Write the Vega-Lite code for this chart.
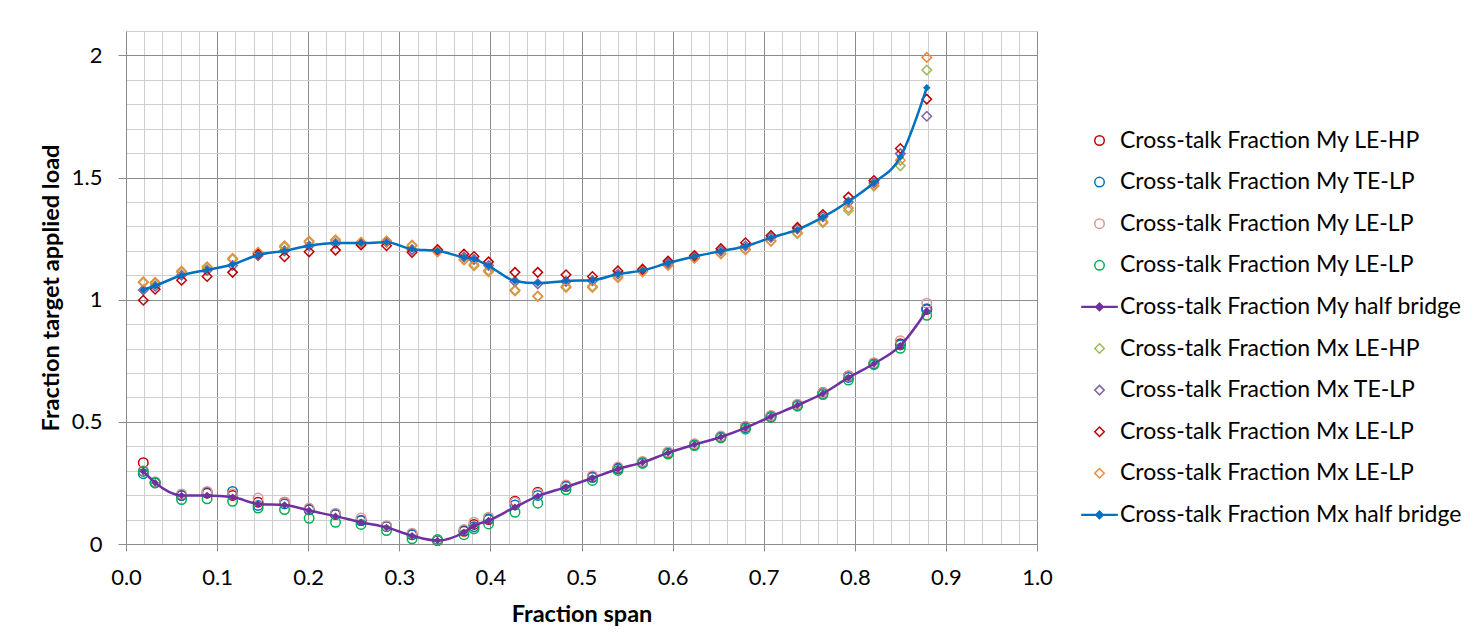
{
  "$schema": "https://vega.github.io/schema/vega-lite/v6.json",
  "autosize": {"type": "none"},
  "padding": {"left": 126, "top": 31, "right": 447, "bottom": 100},
  "width": 911,
  "height": 513,
  "background": "white",
  "config": {
    "view": {"stroke": null},
    "font": "Lato",
    "legend": {
      "orient": "none",
      "legendX": 962,
      "legendY": 98,
      "direction": "vertical",
      "labelFont": "Lato",
      "labelFontSize": 23,
      "labelColor": "#000000",
      "labelLimit": 0,
      "symbolSize": 90,
      "symbolStrokeWidth": 1.5,
      "rowPadding": 17.6,
      "labelOffset": 9,
      "padding": 0
    }
  },
  "data": {
    "values": [
      {"x":0.019,"s":"a","y":0.333},{"x":0.032,"s":"a","y":0.252},{"x":0.061,"s":"a","y":0.199},{"x":0.089,"s":"a","y":0.208},{"x":0.117,"s":"a","y":0.199},{"x":0.145,"s":"a","y":0.171},{"x":0.174,"s":"a","y":0.171},{"x":0.201,"s":"a","y":0.141},{"x":0.230,"s":"a","y":0.121},{"x":0.258,"s":"a","y":0.096},{"x":0.286,"s":"a","y":0.072},{"x":0.314,"s":"a","y":0.038},{"x":0.342,"s":"a","y":0.014},{"x":0.371,"s":"a","y":0.052},{"x":0.382,"s":"a","y":0.080},{"x":0.398,"s":"a","y":0.100},{"x":0.427,"s":"a","y":0.175},{"x":0.452,"s":"a","y":0.212},{"x":0.483,"s":"a","y":0.238},{"x":0.512,"s":"a","y":0.276},{"x":0.540,"s":"a","y":0.310},{"x":0.567,"s":"a","y":0.336},{"x":0.595,"s":"a","y":0.375},{"x":0.624,"s":"a","y":0.408},{"x":0.653,"s":"a","y":0.440},{"x":0.680,"s":"a","y":0.480},{"x":0.708,"s":"a","y":0.524},{"x":0.737,"s":"a","y":0.570},{"x":0.765,"s":"a","y":0.620},{"x":0.793,"s":"a","y":0.688},{"x":0.821,"s":"a","y":0.740},{"x":0.850,"s":"a","y":0.820},{"x":0.879,"s":"a","y":0.960},
      {"x":0.019,"s":"b","y":0.288},{"x":0.032,"s":"b","y":0.250},{"x":0.061,"s":"b","y":0.199},{"x":0.089,"s":"b","y":0.212},{"x":0.117,"s":"b","y":0.215},{"x":0.145,"s":"b","y":0.158},{"x":0.174,"s":"b","y":0.164},{"x":0.201,"s":"b","y":0.140},{"x":0.230,"s":"b","y":0.121},{"x":0.258,"s":"b","y":0.096},{"x":0.286,"s":"b","y":0.073},{"x":0.314,"s":"b","y":0.038},{"x":0.342,"s":"b","y":0.014},{"x":0.371,"s":"b","y":0.055},{"x":0.382,"s":"b","y":0.071},{"x":0.398,"s":"b","y":0.103},{"x":0.427,"s":"b","y":0.160},{"x":0.452,"s":"b","y":0.199},{"x":0.483,"s":"b","y":0.235},{"x":0.512,"s":"b","y":0.272},{"x":0.540,"s":"b","y":0.308},{"x":0.567,"s":"b","y":0.334},{"x":0.595,"s":"b","y":0.373},{"x":0.624,"s":"b","y":0.407},{"x":0.653,"s":"b","y":0.438},{"x":0.680,"s":"b","y":0.476},{"x":0.708,"s":"b","y":0.522},{"x":0.737,"s":"b","y":0.568},{"x":0.765,"s":"b","y":0.617},{"x":0.793,"s":"b","y":0.682},{"x":0.821,"s":"b","y":0.738},{"x":0.850,"s":"b","y":0.815},{"x":0.879,"s":"b","y":0.963},
      {"x":0.019,"s":"c","y":0.300},{"x":0.032,"s":"c","y":0.255},{"x":0.061,"s":"c","y":0.205},{"x":0.089,"s":"c","y":0.215},{"x":0.117,"s":"c","y":0.205},{"x":0.145,"s":"c","y":0.188},{"x":0.174,"s":"c","y":0.171},{"x":0.201,"s":"c","y":0.147},{"x":0.230,"s":"c","y":0.126},{"x":0.258,"s":"c","y":0.106},{"x":0.286,"s":"c","y":0.075},{"x":0.314,"s":"c","y":0.044},{"x":0.342,"s":"c","y":0.016},{"x":0.371,"s":"c","y":0.059},{"x":0.382,"s":"c","y":0.089},{"x":0.398,"s":"c","y":0.110},{"x":0.427,"s":"c","y":0.171},{"x":0.452,"s":"c","y":0.208},{"x":0.483,"s":"c","y":0.242},{"x":0.512,"s":"c","y":0.279},{"x":0.540,"s":"c","y":0.315},{"x":0.567,"s":"c","y":0.338},{"x":0.595,"s":"c","y":0.377},{"x":0.624,"s":"c","y":0.410},{"x":0.653,"s":"c","y":0.442},{"x":0.680,"s":"c","y":0.482},{"x":0.708,"s":"c","y":0.526},{"x":0.737,"s":"c","y":0.572},{"x":0.765,"s":"c","y":0.620},{"x":0.793,"s":"c","y":0.689},{"x":0.821,"s":"c","y":0.742},{"x":0.850,"s":"c","y":0.832},{"x":0.879,"s":"c","y":0.986},
      {"x":0.019,"s":"d","y":0.297},{"x":0.032,"s":"d","y":0.251},{"x":0.061,"s":"d","y":0.182},{"x":0.089,"s":"d","y":0.185},{"x":0.117,"s":"d","y":0.175},{"x":0.145,"s":"d","y":0.147},{"x":0.174,"s":"d","y":0.141},{"x":0.201,"s":"d","y":0.105},{"x":0.230,"s":"d","y":0.089},{"x":0.258,"s":"d","y":0.080},{"x":0.286,"s":"d","y":0.055},{"x":0.314,"s":"d","y":0.021},{"x":0.342,"s":"d","y":0.018},{"x":0.371,"s":"d","y":0.038},{"x":0.382,"s":"d","y":0.062},{"x":0.398,"s":"d","y":0.082},{"x":0.427,"s":"d","y":0.130},{"x":0.452,"s":"d","y":0.167},{"x":0.483,"s":"d","y":0.222},{"x":0.512,"s":"d","y":0.260},{"x":0.540,"s":"d","y":0.301},{"x":0.567,"s":"d","y":0.330},{"x":0.595,"s":"d","y":0.368},{"x":0.624,"s":"d","y":0.403},{"x":0.653,"s":"d","y":0.434},{"x":0.680,"s":"d","y":0.470},{"x":0.708,"s":"d","y":0.518},{"x":0.737,"s":"d","y":0.564},{"x":0.765,"s":"d","y":0.612},{"x":0.793,"s":"d","y":0.671},{"x":0.821,"s":"d","y":0.734},{"x":0.850,"s":"d","y":0.801},{"x":0.879,"s":"d","y":0.936},
      {"x":0.019,"s":"e","y":0.297},{"x":0.032,"s":"e","y":0.251},{"x":0.061,"s":"e","y":0.199},{"x":0.089,"s":"e","y":0.199},{"x":0.117,"s":"e","y":0.192},{"x":0.145,"s":"e","y":0.164},{"x":0.174,"s":"e","y":0.160},{"x":0.201,"s":"e","y":0.137},{"x":0.230,"s":"e","y":0.114},{"x":0.258,"s":"e","y":0.089},{"x":0.286,"s":"e","y":0.068},{"x":0.314,"s":"e","y":0.034},{"x":0.342,"s":"e","y":0.014},{"x":0.371,"s":"e","y":0.048},{"x":0.382,"s":"e","y":0.075},{"x":0.398,"s":"e","y":0.096},{"x":0.427,"s":"e","y":0.151},{"x":0.452,"s":"e","y":0.196},{"x":0.483,"s":"e","y":0.233},{"x":0.512,"s":"e","y":0.270},{"x":0.540,"s":"e","y":0.307},{"x":0.567,"s":"e","y":0.334},{"x":0.595,"s":"e","y":0.373},{"x":0.624,"s":"e","y":0.407},{"x":0.653,"s":"e","y":0.438},{"x":0.680,"s":"e","y":0.475},{"x":0.708,"s":"e","y":0.522},{"x":0.737,"s":"e","y":0.568},{"x":0.765,"s":"e","y":0.616},{"x":0.793,"s":"e","y":0.681},{"x":0.821,"s":"e","y":0.738},{"x":0.850,"s":"e","y":0.812},{"x":0.879,"s":"e","y":0.955},
      {"x":0.019,"s":"f","y":1.070},{"x":0.032,"s":"f","y":1.065},{"x":0.061,"s":"f","y":1.112},{"x":0.089,"s":"f","y":1.130},{"x":0.117,"s":"f","y":1.165},{"x":0.145,"s":"f","y":1.190},{"x":0.174,"s":"f","y":1.215},{"x":0.201,"s":"f","y":1.235},{"x":0.230,"s":"f","y":1.240},{"x":0.258,"s":"f","y":1.235},{"x":0.286,"s":"f","y":1.240},{"x":0.314,"s":"f","y":1.220},{"x":0.342,"s":"f","y":1.200},{"x":0.371,"s":"f","y":1.165},{"x":0.382,"s":"f","y":1.145},{"x":0.398,"s":"f","y":1.120},{"x":0.427,"s":"f","y":1.040},{"x":0.452,"s":"f","y":1.015},{"x":0.483,"s":"f","y":1.055},{"x":0.512,"s":"f","y":1.055},{"x":0.540,"s":"f","y":1.095},{"x":0.567,"s":"f","y":1.115},{"x":0.595,"s":"f","y":1.145},{"x":0.624,"s":"f","y":1.170},{"x":0.653,"s":"f","y":1.190},{"x":0.680,"s":"f","y":1.205},{"x":0.708,"s":"f","y":1.240},{"x":0.737,"s":"f","y":1.270},{"x":0.765,"s":"f","y":1.315},{"x":0.793,"s":"f","y":1.365},{"x":0.821,"s":"f","y":1.465},{"x":0.850,"s":"f","y":1.548},{"x":0.879,"s":"f","y":1.940},
      {"x":0.019,"s":"g","y":1.040},{"x":0.032,"s":"g","y":1.055},{"x":0.061,"s":"g","y":1.100},{"x":0.089,"s":"g","y":1.120},{"x":0.117,"s":"g","y":1.140},{"x":0.145,"s":"g","y":1.180},{"x":0.174,"s":"g","y":1.200},{"x":0.201,"s":"g","y":1.220},{"x":0.230,"s":"g","y":1.230},{"x":0.258,"s":"g","y":1.230},{"x":0.286,"s":"g","y":1.235},{"x":0.314,"s":"g","y":1.205},{"x":0.342,"s":"g","y":1.200},{"x":0.371,"s":"g","y":1.175},{"x":0.382,"s":"g","y":1.165},{"x":0.398,"s":"g","y":1.140},{"x":0.427,"s":"g","y":1.075},{"x":0.452,"s":"g","y":1.065},{"x":0.483,"s":"g","y":1.075},{"x":0.512,"s":"g","y":1.078},{"x":0.540,"s":"g","y":1.105},{"x":0.567,"s":"g","y":1.120},{"x":0.595,"s":"g","y":1.150},{"x":0.624,"s":"g","y":1.175},{"x":0.653,"s":"g","y":1.200},{"x":0.680,"s":"g","y":1.220},{"x":0.708,"s":"g","y":1.255},{"x":0.737,"s":"g","y":1.290},{"x":0.765,"s":"g","y":1.340},{"x":0.793,"s":"g","y":1.400},{"x":0.821,"s":"g","y":1.478},{"x":0.850,"s":"g","y":1.598},{"x":0.879,"s":"g","y":1.751},
      {"x":0.019,"s":"h","y":0.998},{"x":0.032,"s":"h","y":1.043},{"x":0.061,"s":"h","y":1.080},{"x":0.089,"s":"h","y":1.095},{"x":0.117,"s":"h","y":1.112},{"x":0.145,"s":"h","y":1.187},{"x":0.174,"s":"h","y":1.176},{"x":0.201,"s":"h","y":1.196},{"x":0.230,"s":"h","y":1.203},{"x":0.258,"s":"h","y":1.224},{"x":0.286,"s":"h","y":1.221},{"x":0.314,"s":"h","y":1.194},{"x":0.342,"s":"h","y":1.205},{"x":0.371,"s":"h","y":1.187},{"x":0.382,"s":"h","y":1.177},{"x":0.398,"s":"h","y":1.155},{"x":0.427,"s":"h","y":1.112},{"x":0.452,"s":"h","y":1.112},{"x":0.483,"s":"h","y":1.102},{"x":0.512,"s":"h","y":1.095},{"x":0.540,"s":"h","y":1.118},{"x":0.567,"s":"h","y":1.125},{"x":0.595,"s":"h","y":1.158},{"x":0.624,"s":"h","y":1.181},{"x":0.653,"s":"h","y":1.209},{"x":0.680,"s":"h","y":1.233},{"x":0.708,"s":"h","y":1.263},{"x":0.737,"s":"h","y":1.296},{"x":0.765,"s":"h","y":1.349},{"x":0.793,"s":"h","y":1.420},{"x":0.821,"s":"h","y":1.488},{"x":0.850,"s":"h","y":1.619},{"x":0.879,"s":"h","y":1.821},
      {"x":0.019,"s":"i","y":1.073},{"x":0.032,"s":"i","y":1.071},{"x":0.061,"s":"i","y":1.117},{"x":0.089,"s":"i","y":1.135},{"x":0.117,"s":"i","y":1.170},{"x":0.145,"s":"i","y":1.194},{"x":0.174,"s":"i","y":1.221},{"x":0.201,"s":"i","y":1.240},{"x":0.230,"s":"i","y":1.245},{"x":0.258,"s":"i","y":1.235},{"x":0.286,"s":"i","y":1.240},{"x":0.314,"s":"i","y":1.224},{"x":0.342,"s":"i","y":1.196},{"x":0.371,"s":"i","y":1.163},{"x":0.382,"s":"i","y":1.139},{"x":0.398,"s":"i","y":1.114},{"x":0.427,"s":"i","y":1.036},{"x":0.452,"s":"i","y":1.013},{"x":0.483,"s":"i","y":1.050},{"x":0.512,"s":"i","y":1.050},{"x":0.540,"s":"i","y":1.090},{"x":0.567,"s":"i","y":1.115},{"x":0.595,"s":"i","y":1.140},{"x":0.624,"s":"i","y":1.170},{"x":0.653,"s":"i","y":1.187},{"x":0.680,"s":"i","y":1.206},{"x":0.708,"s":"i","y":1.240},{"x":0.737,"s":"i","y":1.274},{"x":0.765,"s":"i","y":1.320},{"x":0.793,"s":"i","y":1.375},{"x":0.821,"s":"i","y":1.468},{"x":0.850,"s":"i","y":1.571},{"x":0.879,"s":"i","y":1.992},
      {"x":0.019,"s":"j","y":1.040},{"x":0.032,"s":"j","y":1.057},{"x":0.061,"s":"j","y":1.100},{"x":0.089,"s":"j","y":1.122},{"x":0.117,"s":"j","y":1.144},{"x":0.145,"s":"j","y":1.183},{"x":0.174,"s":"j","y":1.200},{"x":0.201,"s":"j","y":1.221},{"x":0.230,"s":"j","y":1.232},{"x":0.258,"s":"j","y":1.232},{"x":0.286,"s":"j","y":1.235},{"x":0.314,"s":"j","y":1.207},{"x":0.342,"s":"j","y":1.200},{"x":0.371,"s":"j","y":1.173},{"x":0.382,"s":"j","y":1.166},{"x":0.398,"s":"j","y":1.139},{"x":0.427,"s":"j","y":1.077},{"x":0.452,"s":"j","y":1.068},{"x":0.483,"s":"j","y":1.077},{"x":0.512,"s":"j","y":1.080},{"x":0.540,"s":"j","y":1.105},{"x":0.567,"s":"j","y":1.120},{"x":0.595,"s":"j","y":1.150},{"x":0.624,"s":"j","y":1.177},{"x":0.653,"s":"j","y":1.199},{"x":0.680,"s":"j","y":1.219},{"x":0.708,"s":"j","y":1.254},{"x":0.737,"s":"j","y":1.287},{"x":0.765,"s":"j","y":1.338},{"x":0.793,"s":"j","y":1.402},{"x":0.821,"s":"j","y":1.479},{"x":0.850,"s":"j","y":1.584},{"x":0.879,"s":"j","y":1.868}
    ]
  },
  "encoding": {
    "x": {
      "field": "x", "type": "quantitative",
      "scale": {"domain": [0, 1], "nice": false, "zero": false},
      "axis": {
        "title": "Fraction span",
        "values": [0,0.02,0.04,0.06,0.08,0.1,0.12,0.14,0.16,0.18,0.2,0.22,0.24,0.26,0.28,0.3,0.32,0.34,0.36,0.38,0.4,0.42,0.44,0.46,0.48,0.5,0.52,0.54,0.56,0.58,0.6,0.62,0.64,0.66,0.68,0.7,0.72,0.74,0.76,0.78,0.8,0.82,0.84,0.86,0.88,0.9,0.92,0.94,0.96,0.98,1],
        "labelExpr": "abs(datum.value*10-round(datum.value*10))<0.001 ? format(datum.value,'.1f') : ''",
        "labelOverlap": false,
        "labelFlush": false,
        "labelFont": "Lato",
        "labelFontSize": 22,
        "labelColor": "#000000",
        "labelPadding": 16,
        "grid": true,
        "gridColor": {"condition": {"test": "abs(datum.value*10-round(datum.value*10))<0.001", "value": "#8C8C8C"}, "value": "#CFCFCF"},
        "gridWidth": 1,
        "tickSize": 7,
        "tickColor": "#8C8C8C",
        "tickOpacity": {"condition": {"test": "abs(datum.value*10-round(datum.value*10))<0.001", "value": 1}, "value": 0},
        "domainColor": "#8C8C8C",
        "titleFont": "Lato",
        "titleFontSize": 23.5,
        "titleFontWeight": "bold",
        "titleColor": "#000000",
        "titlePadding": 14
      }
    },
    "y": {
      "field": "y", "type": "quantitative",
      "scale": {"domain": [0, 2.1], "nice": false, "zero": false},
      "axis": {
        "title": "Fraction target applied load",
        "values": [0,0.1,0.2,0.3,0.4,0.5,0.6,0.7,0.8,0.9,1,1.1,1.2,1.3,1.4,1.5,1.6,1.7,1.8,1.9,2,2.1],
        "labelExpr": "abs(datum.value*2-round(datum.value*2))<0.001 ? format(datum.value,'~g') : ''",
        "labelOverlap": false,
        "labelFlush": false,
        "labelFont": "Lato",
        "labelFontSize": 22,
        "labelColor": "#000000",
        "labelPadding": 16,
        "grid": true,
        "gridColor": {"condition": {"test": "abs(datum.value*2-round(datum.value*2))<0.001", "value": "#8C8C8C"}, "value": "#CFCFCF"},
        "gridWidth": 1,
        "tickSize": 8,
        "tickColor": "#8C8C8C",
        "tickOpacity": {"condition": {"test": "abs(datum.value*2-round(datum.value*2))<0.001", "value": 1}, "value": 0},
        "domainColor": "#8C8C8C",
        "titleFont": "Lato",
        "titleFontSize": 23.5,
        "titleFontWeight": "bold",
        "titleColor": "#000000",
        "titlePadding": 8
      }
    }
  },
  "layer": [
    {
      "transform": [{"filter": "datum.s != 'e' && datum.s != 'j'"}],
      "mark": {"type": "point", "size": 90, "strokeWidth": 1.5, "opacity": 1},
      "encoding": {
        "stroke": {
          "field": "s", "type": "nominal",
          "scale": {"domain": ["a","b","c","d","e","f","g","h","i","j"], "range": ["#C00000","#0070C0","#D99694","#00B050","#7030A0","#9BBB59","#8064A2","#C00000","#F08A3C","#0070C0"]},
          "legend": {"title": null, "labelExpr": "datum.value=='a'?'Cross-talk Fraction My LE-HP':datum.value=='b'?'Cross-talk Fraction My TE-LP':(datum.value=='c'||datum.value=='d')?'Cross-talk Fraction My LE-LP':datum.value=='e'?'Cross-talk Fraction My half bridge':datum.value=='f'?'Cross-talk Fraction Mx LE-HP':datum.value=='g'?'Cross-talk Fraction Mx TE-LP':(datum.value=='h'||datum.value=='i')?'Cross-talk Fraction Mx LE-LP':'Cross-talk Fraction Mx half bridge'"}
        },
        "fill": {
          "field": "s", "type": "nominal",
          "scale": {"domain": ["a","b","c","d","e","f","g","h","i","j"], "range": ["transparent","transparent","transparent","transparent","#7030A0","transparent","transparent","transparent","transparent","#0070C0"]},
          "legend": {"title": null, "labelExpr": "datum.value=='a'?'Cross-talk Fraction My LE-HP':datum.value=='b'?'Cross-talk Fraction My TE-LP':(datum.value=='c'||datum.value=='d')?'Cross-talk Fraction My LE-LP':datum.value=='e'?'Cross-talk Fraction My half bridge':datum.value=='f'?'Cross-talk Fraction Mx LE-HP':datum.value=='g'?'Cross-talk Fraction Mx TE-LP':(datum.value=='h'||datum.value=='i')?'Cross-talk Fraction Mx LE-LP':'Cross-talk Fraction Mx half bridge'"}
        },
        "shape": {
          "field": "s", "type": "nominal",
          "scale": {"domain": ["a","b","c","d","e","f","g","h","i","j"], "range": ["circle","circle","circle","circle","M-3.7,-0.1H3.7V0.1H-3.7Z M0,-0.8L0.8,0L0,0.8L-0.8,0Z","diamond","diamond","diamond","diamond","M-3.7,-0.1H3.7V0.1H-3.7Z M0,-0.8L0.8,0L0,0.8L-0.8,0Z"]},
          "legend": {"title": null, "labelExpr": "datum.value=='a'?'Cross-talk Fraction My LE-HP':datum.value=='b'?'Cross-talk Fraction My TE-LP':(datum.value=='c'||datum.value=='d')?'Cross-talk Fraction My LE-LP':datum.value=='e'?'Cross-talk Fraction My half bridge':datum.value=='f'?'Cross-talk Fraction Mx LE-HP':datum.value=='g'?'Cross-talk Fraction Mx TE-LP':(datum.value=='h'||datum.value=='i')?'Cross-talk Fraction Mx LE-LP':'Cross-talk Fraction Mx half bridge'"}
        }
      }
    },
    {
      "transform": [{"filter": "datum.s == 'e' || datum.s == 'j'"}],
      "mark": {"type": "line", "strokeWidth": 2.5, "interpolate": "monotone"},
      "encoding": {
        "stroke": {"field": "s", "type": "nominal", "legend": null},
        "detail": {"field": "s", "type": "nominal"}
      }
    },
    {
      "transform": [{"filter": "datum.s == 'e' || datum.s == 'j'"}],
      "mark": {"type": "point", "shape": "diamond", "size": 55, "filled": true, "opacity": 1, "strokeWidth": 0},
      "encoding": {
        "fill": {"field": "s", "type": "nominal", "legend": null}
      }
    }
  ]
}
